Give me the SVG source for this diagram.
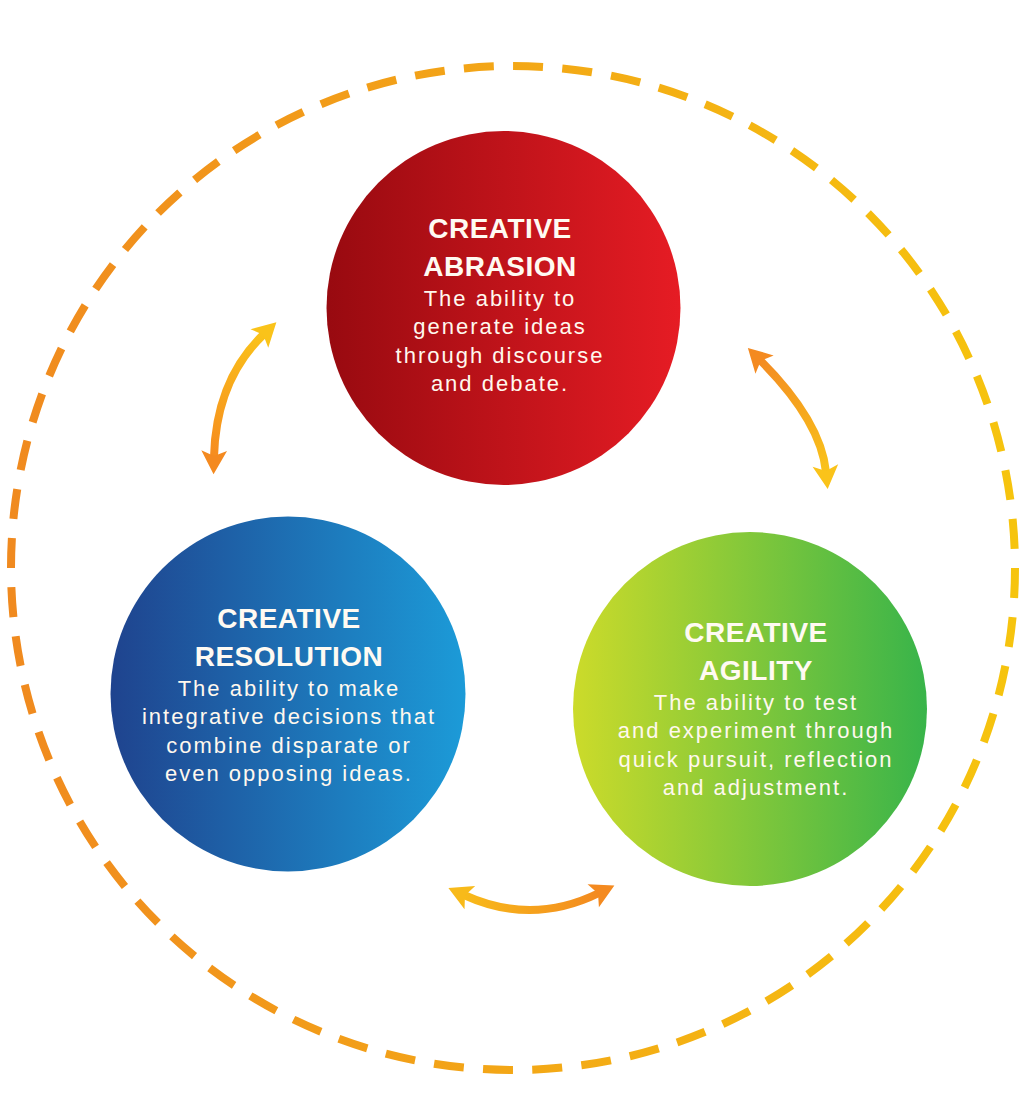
<svg xmlns="http://www.w3.org/2000/svg" width="1024" height="1097" viewBox="0 0 1024 1097">
<style>
.title{font-family:"Liberation Sans",Arial,sans-serif;font-weight:bold;font-size:28px;letter-spacing:0.5px;fill:#FFFAF2;text-anchor:middle}
.body{font-family:"Liberation Sans",Arial,sans-serif;font-size:22px;letter-spacing:2px;fill:#FFF8EE;text-anchor:middle}
.shaft{fill:none;stroke-width:8;stroke-linecap:butt}
</style>
<defs>
<linearGradient id="gRing" gradientUnits="userSpaceOnUse" x1="11" y1="0" x2="1015" y2="0">
<stop offset="0" stop-color="#F08A1F"/><stop offset="1" stop-color="#F6C40E"/>
</linearGradient>
<linearGradient id="gRed" x1="0" y1="0" x2="1" y2="0">
<stop offset="0" stop-color="#980A10"/><stop offset="1" stop-color="#E61C24"/>
</linearGradient>
<linearGradient id="gBlue" x1="0" y1="0" x2="1" y2="0">
<stop offset="0" stop-color="#1F438E"/><stop offset="1" stop-color="#1C9BD8"/>
</linearGradient>
<linearGradient id="gGreen" x1="0" y1="0" x2="1" y2="0">
<stop offset="0" stop-color="#CCDB2A"/><stop offset="1" stop-color="#38B44A"/>
</linearGradient>
<linearGradient id="gA1" gradientUnits="userSpaceOnUse" x1="214" y1="457" x2="264" y2="334">
<stop offset="0" stop-color="#F68C1F"/><stop offset="1" stop-color="#FAC31A"/>
</linearGradient>
<linearGradient id="gA2" gradientUnits="userSpaceOnUse" x1="760" y1="360" x2="826" y2="472">
<stop offset="0" stop-color="#F38B22"/><stop offset="1" stop-color="#F9C31A"/>
</linearGradient>
<linearGradient id="gA3" gradientUnits="userSpaceOnUse" x1="464" y1="895" x2="599" y2="893">
<stop offset="0" stop-color="#F8BA1A"/><stop offset="1" stop-color="#F38A20"/>
</linearGradient>
<marker id="hY" markerUnits="userSpaceOnUse" markerWidth="30" markerHeight="30" viewBox="-2 -14 26 28" refX="6" refY="0" orient="auto-start-reverse">
<path d="M0,-12 L22,0 L0,12 L5,0 Z" fill="#FAC31A"/>
</marker>
<marker id="hO" markerUnits="userSpaceOnUse" markerWidth="30" markerHeight="30" viewBox="-2 -14 26 28" refX="6" refY="0" orient="auto-start-reverse">
<path d="M0,-12 L22,0 L0,12 L5,0 Z" fill="#F48A20"/>
</marker>
<marker id="hY2" markerUnits="userSpaceOnUse" markerWidth="30" markerHeight="30" viewBox="-2 -14 26 28" refX="6" refY="0" orient="auto-start-reverse">
<path d="M0,-12 L22,0 L0,12 L5,0 Z" fill="#F8BA1A"/>
</marker>
</defs>
<rect width="1024" height="1097" fill="#FFFFFF"/>
<circle id="ring" cx="513" cy="568" r="502" fill="none" stroke="url(#gRing)" stroke-width="8" stroke-dasharray="30 19.28"/>
<g id="connectors">
<path class="shaft" d="M214,457 Q216,380 264,334" stroke="url(#gA1)" marker-start="url(#hO)" marker-end="url(#hY)"/>
<path class="shaft" d="M760,360 Q821,421 826,472" stroke="url(#gA2)" marker-start="url(#hO)" marker-end="url(#hY)"/>
<path class="shaft" d="M464,895 Q532,926 599,893" stroke="url(#gA3)" marker-start="url(#hY2)" marker-end="url(#hO)"/>
</g>
<g id="abrasion">
<circle cx="503.5" cy="308" r="177" fill="url(#gRed)"/>
<text class="title" x="500" y="238">CREATIVE</text>
<text class="title" x="500" y="276">ABRASION</text>
<text class="body" x="500" y="305.5">The ability to</text>
<text class="body" x="500" y="334">generate ideas</text>
<text class="body" x="500" y="362.5">through discourse</text>
<text class="body" x="500" y="391">and debate.</text>
</g>
<g id="resolution">
<circle cx="288" cy="694" r="177.5" fill="url(#gBlue)"/>
<text class="title" x="289" y="628">CREATIVE</text>
<text class="title" x="289" y="666">RESOLUTION</text>
<text class="body" x="289" y="695.5">The ability to make</text>
<text class="body" x="289" y="724">integrative decisions that</text>
<text class="body" x="289" y="752.5">combine disparate or</text>
<text class="body" x="289" y="781">even opposing ideas.</text>
</g>
<g id="agility">
<circle cx="750" cy="709" r="177" fill="url(#gGreen)"/>
<text class="title" x="756" y="642">CREATIVE</text>
<text class="title" x="756" y="680">AGILITY</text>
<text class="body" x="756" y="709.5">The ability to test</text>
<text class="body" x="756" y="738">and experiment through</text>
<text class="body" x="756" y="766.5">quick pursuit, reflection</text>
<text class="body" x="756" y="795">and adjustment.</text>
</g>
</svg>
